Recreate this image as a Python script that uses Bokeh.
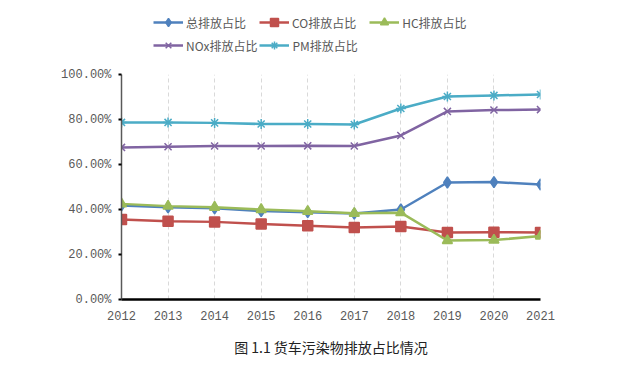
from bokeh.plotting import figure
from bokeh.models import Range1d, FixedTicker, CustomJSTickFormatter, Legend, LegendItem, Title
from bokeh.layouts import column
from bokeh.embed import file_html
from bokeh.resources import INLINE

years = [2012, 2013, 2014, 2015, 2016, 2017, 2018, 2019, 2020, 2021]
total_share = [41.8, 41.0, 40.5, 39.3, 38.8, 38.2, 40.0, 52.0, 52.2, 51.1]
co_share = [35.6, 34.8, 34.5, 33.6, 32.8, 32.0, 32.4, 29.8, 29.9, 29.8]
hc_share = [42.5, 41.5, 41.0, 40.0, 39.2, 38.3, 38.6, 26.2, 26.4, 28.2]
nox_share = [67.6, 67.9, 68.2, 68.2, 68.3, 68.2, 72.9, 83.6, 84.2, 84.4]
pm_share = [78.7, 78.7, 78.5, 78.0, 78.0, 77.8, 84.9, 90.2, 90.7, 91.1]
y_ticks = [0, 20, 40, 60, 80, 100]
labels = ["总排放占比", "CO排放占比", "HC排放占比", "NOx排放占比", "PM排放占比"]
caption = "图 1.1 货车污染物排放占比情况"

series = [
    (total_share, "#4F81BD", "diamond", 11),
    (co_share, "#C0504D", "square", 10),
    (hc_share, "#9BBB59", "triangle", 10),
    (nox_share, "#8064A2", "x", 10),
    (pm_share, "#4BACC6", "asterisk", 10),
]

# ---- legend strip (separate figure on top; its frame aligns with the chart's frame) ----
lf = figure(width=626, height=64, output_backend="svg", toolbar_location=None,
            x_range=Range1d(0, 1), y_range=Range1d(0, 1),
            x_axis_type=None, y_axis_type=None,
            min_border_left=121, min_border_right=86, min_border_top=0, min_border_bottom=0)
lf.outline_line_color = None
lf.xgrid.grid_line_color = None
lf.ygrid.grid_line_color = None

items = []
for (vals, col, mk, sz), lab in zip(series, labels):
    # same data as the chart; it lies outside this strip's ranges, so only the legend shows
    r1 = lf.line(years, vals, line_color=col, line_width=2.5)
    r2 = lf.scatter(years, vals, marker=mk, size=sz, fill_color=col, line_color=col, line_width=1.5)
    items.append(LegendItem(label=lab, renderers=[r1, r2]))

common = dict(orientation="horizontal", border_line_color=None, background_fill_alpha=0,
              label_text_font="Noto Sans CJK SC", label_text_font_size="12px",
              label_text_color="#595959", glyph_width=30, glyph_height=20,
              label_standoff=3, padding=2, margin=0)
legend1 = Legend(items=items[:3], location=(32, 32), spacing=13, **common)
legend2 = Legend(items=items[3:], location=(32, 9), spacing=2, **common)
lf.add_layout(legend1, "center")
lf.add_layout(legend2, "center")

# ---- main chart ----
p = figure(width=626, height=307, output_backend="svg", toolbar_location=None,
           x_range=Range1d(2012, 2021), y_range=Range1d(0, 100),
           min_border_left=121, min_border_right=86, min_border_top=10, min_border_bottom=72)
p.outline_line_color = None

for vals, col, mk, sz in series:
    p.line(years, vals, line_color=col, line_width=2.5)
    p.scatter(years, vals, marker=mk, size=sz, fill_color=col, line_color=col, line_width=1.5)

# grids
p.ygrid.grid_line_color = None
p.xgrid.ticker = FixedTicker(ticks=years)
p.xgrid.grid_line_color = "#D9D9D9"
p.xgrid.grid_line_dash = "4 3"
p.xgrid.grid_line_width = 1

# x axis
p.xaxis.ticker = FixedTicker(ticks=years)
p.xaxis.axis_line_color = "black"
p.xaxis.axis_line_width = 2.5
p.xaxis.major_tick_line_color = None
p.xaxis.minor_tick_line_color = None
p.xaxis.major_label_text_font = "Liberation Mono"
p.xaxis.major_label_text_font_size = "12px"
p.xaxis.major_label_text_color = "#595959"
p.xaxis.major_label_standoff = 5

# y axis
p.yaxis.ticker = FixedTicker(ticks=y_ticks)
p.yaxis.formatter = CustomJSTickFormatter(code="return tick.toFixed(2) + '%';")
p.yaxis.axis_line_color = "#595959"
p.yaxis.axis_line_width = 1.5
p.yaxis.major_tick_line_color = "black"
p.yaxis.major_tick_line_width = 2
p.yaxis.major_tick_in = 0
p.yaxis.major_tick_out = 3
p.yaxis.minor_tick_line_color = None
p.yaxis.major_label_text_font = "Liberation Mono"
p.yaxis.major_label_text_font_size = "12px"
p.yaxis.major_label_text_color = "#595959"
p.yaxis.major_label_standoff = 7

t = Title(text=caption, align="center", text_font="Noto Sans CJK SC",
          text_font_size="14px", text_font_style="normal", text_color="#222222", standoff=25)
p.add_layout(t, "below")

layout = column(lf, p)
open("out.html", "w").write(file_html(layout, INLINE))
